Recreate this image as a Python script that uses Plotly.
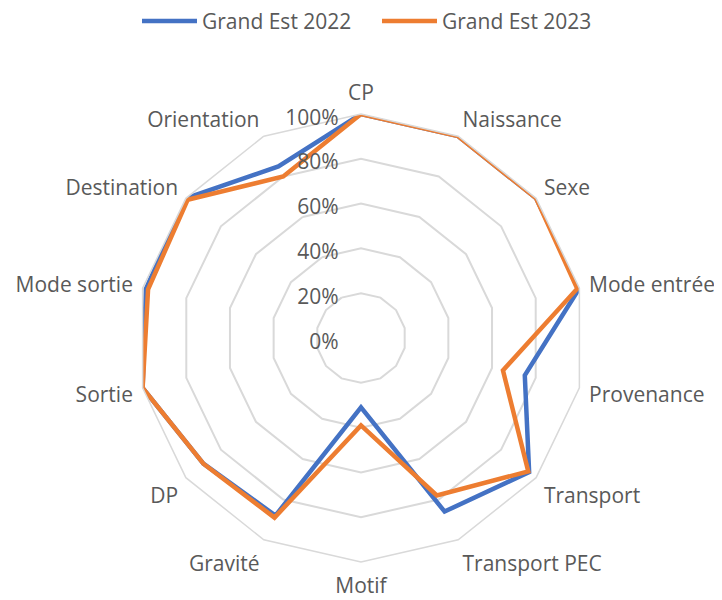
import plotly.graph_objects as go

categories = ["CP", "Naissance", "Sexe", "Mode entrée", "Provenance", "Transport",
              "Transport PEC", "Motif", "Gravité", "DP", "Sortie", "Mode sortie",
              "Destination", "Orientation"]
ge2022 = [1.00, 1.00, 1.00, 1.00, 0.75, 0.96, 0.86, 0.31, 0.88, 0.90, 1.00, 0.985, 1.00, 0.85]
ge2023 = [1.00, 1.00, 1.00, 0.99, 0.65, 0.955, 0.78, 0.39, 0.89, 0.90, 1.00, 0.975, 0.99, 0.80]
radial_ticks = [0, 0.2, 0.4, 0.6, 0.8, 1.0]

FONT = "Open Sans"
TXT = "#595959"
GRID = "#D9D9D9"

fig = go.Figure()
for name, vals, col in [("Grand Est 2022", ge2022, "#4472C4"),
                        ("Grand Est 2023", ge2023, "#ED7D31")]:
    fig.add_trace(go.Scatterpolar(
        r=vals + vals[:1], theta=categories + categories[:1], mode="lines",
        name=name, line=dict(color=col, width=4.5)))

# page body has an 8px default margin, so the figure is 8px smaller
W, H = 714, 592
cx, cy, R = 353, 330, 224
fig.update_layout(
    width=W, height=H, margin=dict(l=0, r=0, t=0, b=0, autoexpand=False),
    paper_bgcolor="white", plot_bgcolor="white",
    font=dict(family=FONT, size=21, color=TXT),
    showlegend=True,
    legend=dict(orientation="h", x=129 / W, xanchor="left", y=1.012, yanchor="top",
                font=dict(size=21, color=TXT), itemwidth=55, entrywidth=170),
    polar=dict(
        domain=dict(x=[(cx - R) / W, (cx + R) / W], y=[(H - cy - R) / H, (H - cy + R) / H]),
        gridshape="linear",
        bgcolor="white",
        angularaxis=dict(rotation=90, direction="clockwise", showgrid=False,
                         showline=True, linecolor=GRID, linewidth=1.5,
                         ticks="outside", ticklen=5, tickcolor="rgba(0,0,0,0)",
                         tickfont=dict(size=21, color=TXT)),
        radialaxis=dict(range=[0, 1], tickvals=radial_ticks, tickformat=".0%",
                        angle=90, side="counterclockwise", showline=False,
                        ticks="outside", ticklen=3, tickcolor="rgba(0,0,0,0)",
                        gridcolor=GRID, gridwidth=1.5, tickfont=dict(size=21, color=TXT)),
    ),
)
fig.write_html("out.html")
